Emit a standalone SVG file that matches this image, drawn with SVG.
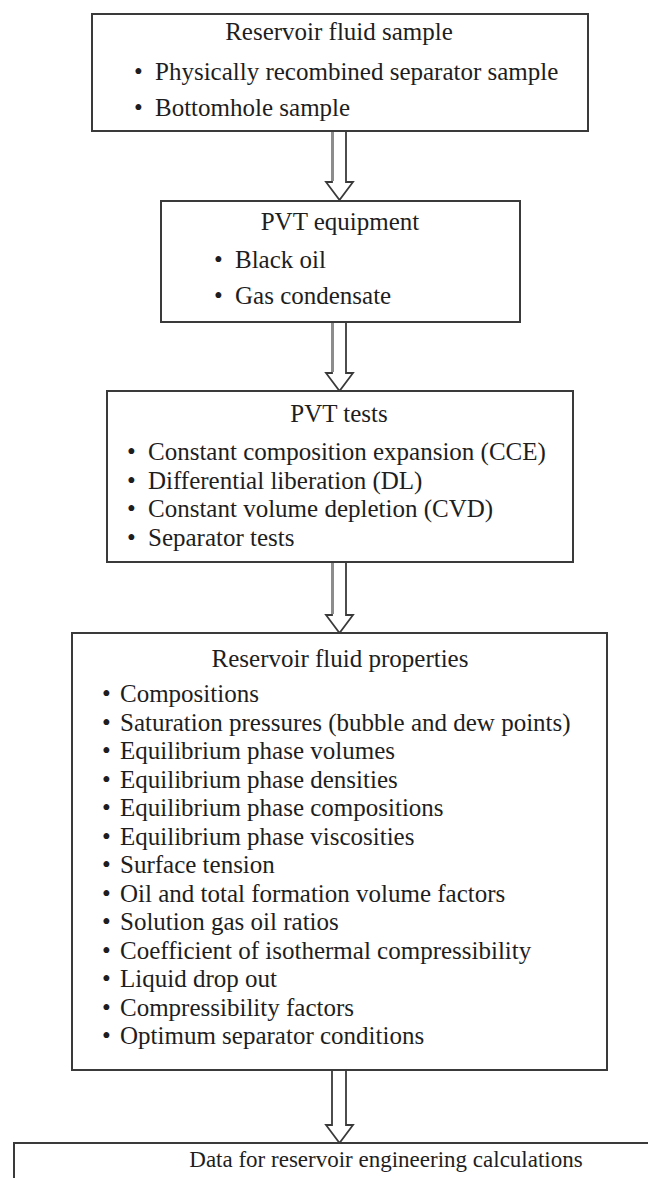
<svg xmlns="http://www.w3.org/2000/svg" width="648" height="1178" viewBox="0 0 648 1178">
<style>
.box{fill:#fff;stroke:#3a3a3a;stroke-width:2}
.t{font-family:"Liberation Serif",serif;font-size:25px;fill:#1e1e1e}
.c{text-anchor:middle}
.arr{fill:#fff;stroke:#3a3a3a;stroke-width:1.8;stroke-linejoin:miter}
.sh{stroke:#8c8c8c;stroke-width:3}
</style>
<rect width="648" height="1178" fill="#fff"/>
<g id="connectors">
<path class="arr" d="M332,131 V182 H326 L339.5,200 L353,182 H346 V131"/>
<line class="sh" x1="332.5" y1="132" x2="332.5" y2="181"/>
<path class="arr" d="M332,322 V373 H326 L339.5,391 L353,373 H346 V322"/>
<line class="sh" x1="332.5" y1="323" x2="332.5" y2="372"/>
<path class="arr" d="M332,562 V615 H326 L339.5,633 L353,615 H346 V562"/>
<line class="sh" x1="332.5" y1="563" x2="332.5" y2="614"/>
<path class="arr" d="M332,1070 V1125 H326 L339.5,1143 L353,1125 H346 V1070"/>
</g>
<g id="n1">
<rect class="box" x="92" y="14" width="496" height="117"/>
<text class="t c" x="339" y="40">Reservoir fluid sample</text>
<text class="t" x="134" y="80">•</text><text class="t" x="155" y="80">Physically recombined separator sample</text>
<text class="t" x="134" y="116">•</text><text class="t" x="155" y="116">Bottomhole sample</text>
</g>
<g id="n2">
<rect class="box" x="161" y="201" width="359" height="121"/>
<text class="t c" x="340" y="230">PVT equipment</text>
<text class="t" x="214" y="268">•</text><text class="t" x="235" y="268">Black oil</text>
<text class="t" x="214" y="304">•</text><text class="t" x="235" y="304">Gas condensate</text>
</g>
<g id="n3">
<rect class="box" x="107" y="391" width="466" height="171"/>
<text class="t c" x="339" y="422">PVT tests</text>
<text class="t" x="127" y="460">•</text><text class="t" x="148" y="460">Constant composition expansion (CCE)</text>
<text class="t" x="127" y="488.5">•</text><text class="t" x="148" y="488.5">Differential liberation (DL)</text>
<text class="t" x="127" y="517">•</text><text class="t" x="148" y="517">Constant volume depletion (CVD)</text>
<text class="t" x="127" y="545.5">•</text><text class="t" x="148" y="545.5">Separator tests</text>
</g>
<g id="n4">
<rect class="box" x="72" y="633" width="535" height="437"/>
<text class="t c" x="340" y="667">Reservoir fluid properties</text>
<g class="t">
<text x="102" y="702">•</text><text x="120" y="702">Compositions</text>
<text x="102" y="730.5">•</text><text x="120" y="730.5">Saturation pressures (bubble and dew points)</text>
<text x="102" y="759">•</text><text x="120" y="759">Equilibrium phase volumes</text>
<text x="102" y="787.5">•</text><text x="120" y="787.5">Equilibrium phase densities</text>
<text x="102" y="816">•</text><text x="120" y="816">Equilibrium phase compositions</text>
<text x="102" y="844.5">•</text><text x="120" y="844.5">Equilibrium phase viscosities</text>
<text x="102" y="873">•</text><text x="120" y="873">Surface tension</text>
<text x="102" y="901.5">•</text><text x="120" y="901.5">Oil and total formation volume factors</text>
<text x="102" y="930">•</text><text x="120" y="930">Solution gas oil ratios</text>
<text x="102" y="958.5">•</text><text x="120" y="958.5">Coefficient of isothermal compressibility</text>
<text x="102" y="987">•</text><text x="120" y="987">Liquid drop out</text>
<text x="102" y="1015.5">•</text><text x="120" y="1015.5">Compressibility factors</text>
<text x="102" y="1044">•</text><text x="120" y="1044">Optimum separator conditions</text>
</g>
</g>
<g id="n5">
<rect class="box" x="14" y="1143" width="760" height="80"/>
<text class="t c" x="386" y="1167" style="font-size:23px">Data for reservoir engineering calculations</text>
</g>
</svg>
